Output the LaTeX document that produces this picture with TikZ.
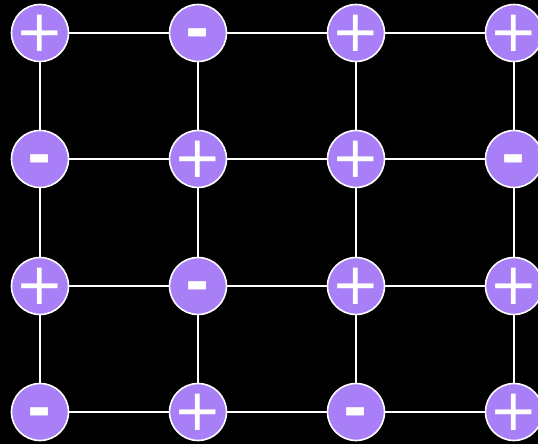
\documentclass[tikz,border=0pt]{standalone}
\usepackage{fontspec}
\setmainfont{DejaVu Sans}
\definecolor{nodefill}{HTML}{A87FF6}
\tikzset{
  pm/.style={circle, draw=white, line width=1.6pt, fill=nodefill, minimum size=57pt, inner sep=0pt, text=white, font=\fontsize{58}{58}\selectfont},
  edge/.style={draw=white, line width=1.6pt}
}
\newcommand{\plussign}{\smash{\makebox[0pt]{\raisebox{-0.32em}{+}}}}
\newcommand{\minussign}{\smash{\makebox[0pt]{\raisebox{-0.29em}{\bfseries -}}}}
\begin{document}
\begin{tikzpicture}[x=1pt,y=1pt]
\fill[black] (0,0) rectangle (538,444);
\useasboundingbox (0,0) rectangle (538,444);
% rows: y = 411, 285, 158, 32 ; cols x = 40,198,356,514
\node[pm] (a1) at (40,411) {\plussign};
\node[pm] (a2) at (198,411) {\minussign};
\node[pm] (a3) at (356,411) {\plussign};
\node[pm] (a4) at (514,411) {\plussign};
\node[pm] (b1) at (40,285) {\minussign};
\node[pm] (b2) at (198,285) {\plussign};
\node[pm] (b3) at (356,285) {\plussign};
\node[pm] (b4) at (514,285) {\minussign};
\node[pm] (c1) at (40,158) {\plussign};
\node[pm] (c2) at (198,158) {\minussign};
\node[pm] (c3) at (356,158) {\plussign};
\node[pm] (c4) at (514,158) {\plussign};
\node[pm] (d1) at (40,32) {\minussign};
\node[pm] (d2) at (198,32) {\plussign};
\node[pm] (d3) at (356,32) {\minussign};
\node[pm] (d4) at (514,32) {\plussign};
\foreach \r in {a,b,c,d}{
  \draw[edge] (\r1) -- (\r2);
  \draw[edge] (\r2) -- (\r3);
  \draw[edge] (\r3) -- (\r4);
}
\foreach \c in {1,2,3,4}{
  \draw[edge] (a\c) -- (b\c);
  \draw[edge] (b\c) -- (c\c);
  \draw[edge] (c\c) -- (d\c);
}
\end{tikzpicture}
\end{document}
